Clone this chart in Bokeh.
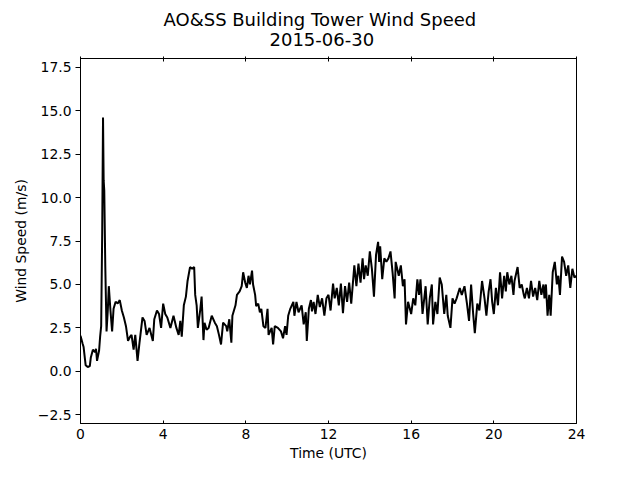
from bokeh.plotting import figure
from bokeh.models import Range1d, FixedTicker, LinearAxis, Title
from bokeh.embed import file_html
from bokeh.resources import INLINE

# --- data (hours UTC, wind speed m/s) ---
hours = [0.0, 0.1, 0.15, 0.25, 0.35, 0.45, 0.5, 0.6, 0.7, 0.75, 0.8, 0.9, 0.95, 1.0, 1.05, 1.09, 1.12, 1.15, 1.2,
         1.26, 1.32, 1.37, 1.45, 1.53, 1.6, 1.7, 1.8, 1.9, 2.0, 2.1, 2.2, 2.3, 2.4, 2.47, 2.57, 2.65, 2.76, 2.85,
         2.9, 3.0, 3.1, 3.2, 3.34, 3.5, 3.57, 3.7, 3.8, 3.9, 4.0, 4.1, 4.2, 4.35, 4.5, 4.64, 4.75, 4.83, 4.9,
         5.0, 5.1, 5.18, 5.3, 5.4, 5.5, 5.55, 5.62, 5.68, 5.8, 5.86, 5.95, 6.0, 6.1, 6.2, 6.35, 6.5, 6.6, 6.7,
         6.8, 6.9, 7.05, 7.1, 7.2, 7.3, 7.35, 7.5, 7.57, 7.7, 7.8, 7.87, 7.97, 8.05, 8.13, 8.2, 8.3, 8.35, 8.45,
         8.5, 8.6, 8.68, 8.75, 8.85, 8.95, 9.05, 9.1, 9.25, 9.32, 9.4, 9.55, 9.7, 9.8, 9.9, 9.97, 10.05, 10.15,
         10.3, 10.35, 10.45, 10.55, 10.7, 10.8, 10.9, 10.95, 11.05, 11.15, 11.2, 11.28, 11.37, 11.48, 11.58,
         11.69, 11.8, 11.9, 12.0, 12.1, 12.22, 12.3, 12.4, 12.5, 12.6, 12.7, 12.8, 12.9, 13.0, 13.1, 13.25,
         13.35, 13.45, 13.55, 13.65, 13.72, 13.8, 13.9, 14.0, 14.1, 14.2, 14.3, 14.4, 14.45, 14.5, 14.6, 14.7,
         14.8, 14.9, 15.0, 15.1, 15.2, 15.25, 15.4, 15.5, 15.6, 15.68, 15.75, 15.85, 16.0, 16.1, 16.2, 16.3,
         16.38, 16.45, 16.55, 16.7, 16.8, 16.9, 17.0, 17.06, 17.17, 17.27, 17.38, 17.48, 17.6, 17.7, 17.77,
         17.9, 18.0, 18.1, 18.2, 18.35, 18.45, 18.58, 18.7, 18.8, 18.9, 19.0, 19.08, 19.2, 19.3, 19.43, 19.55,
         19.64, 19.75, 19.84, 19.92, 20.0, 20.1, 20.2, 20.3, 20.4, 20.5, 20.58, 20.65, 20.75, 20.85, 20.95,
         21.0, 21.15, 21.25, 21.35, 21.45, 21.5, 21.6, 21.7, 21.8, 21.9, 22.0, 22.1, 22.2, 22.3, 22.4, 22.45,
         22.52, 22.6, 22.68, 22.75, 22.85, 22.95, 23.05, 23.12, 23.2, 23.3, 23.4, 23.5, 23.6, 23.7, 23.8,
         23.9, 24.0]
speed = [2.05, 1.6, 1.4, 0.35, 0.25, 0.3, 0.8, 1.25, 1.1, 1.3, 0.6, 1.2, 2.0, 2.6, 8.0, 14.6, 11.0, 10.4, 6.0,
         2.3, 3.5, 4.9, 3.5, 2.3, 3.6, 4.0, 3.9, 4.1, 3.5, 3.1, 2.6, 1.75, 2.0, 2.1, 1.25, 2.1, 0.6, 1.6,
         2.1, 3.1, 2.9, 2.1, 2.5, 1.75, 3.0, 3.5, 3.3, 2.5, 3.9, 3.3, 3.1, 2.5, 3.2, 2.5, 2.1, 2.9, 2.0,
         3.8, 4.3, 5.2, 6.0, 5.9, 6.0, 4.4, 3.8, 2.5, 3.6, 4.3, 1.8, 2.8, 2.4, 2.5, 3.2, 2.8, 2.6, 2.1,
         1.55, 2.8, 2.6, 2.3, 3.0, 1.65, 3.2, 3.8, 4.4, 4.6, 4.9, 5.7, 5.1, 4.8, 5.5, 5.0, 5.8, 5.0, 4.4,
         3.75, 3.9, 3.4, 3.6, 2.6, 2.5, 3.6, 2.1, 2.5, 1.55, 2.6, 2.5, 2.3, 1.9, 2.6, 2.1, 3.2, 3.6,
         4.0, 3.2, 4.0, 3.4, 3.8, 2.7, 3.4, 1.75, 3.6, 4.1, 3.45, 4.0, 3.3, 4.4, 3.7,
         4.2, 3.2, 4.2, 4.4, 3.5, 5.05, 4.2, 4.8, 3.8, 5.05, 3.35, 4.9, 4.0, 5.1, 3.9, 6.1,
         4.9, 6.2, 5.1, 6.5, 5.3, 6.1, 5.5, 6.9, 5.9, 4.3, 6.7, 7.45, 6.3, 7.2, 5.3, 6.5,
         6.3, 6.5, 6.9, 5.7, 4.2, 6.3, 5.5, 6.1, 4.9, 5.3, 2.7, 4.0, 3.3, 4.2, 3.8, 5.3,
         4.4, 5.3, 3.3, 4.9, 2.7, 4.2, 5.0, 2.7, 4.0, 3.3, 5.4, 5.0, 3.3, 4.4, 3.2,
         2.5, 4.2, 3.9, 4.2, 4.8, 4.4, 4.9, 3.9, 2.9, 5.0, 3.3, 2.2, 3.9, 3.5, 5.2, 4.2,
         3.2, 4.6, 5.3, 4.0, 3.3, 4.8, 3.8, 5.7, 4.2, 5.5, 4.6, 5.7, 5.0, 5.5, 4.4,
         5.2, 6.0, 4.8, 5.0, 4.4, 4.2, 4.8, 4.2, 5.2, 4.3, 4.8, 4.1, 5.2, 4.4, 5.0, 4.2,
         5.0, 3.2, 4.4, 3.2, 5.7, 6.3, 5.0, 5.5, 4.4, 6.6, 6.3, 5.5, 6.1, 4.8, 5.9,
         5.4, 5.5]

x_ticks = [0, 4, 8, 12, 16, 20, 24]
x_tick_labels = ["0", "4", "8", "12", "16", "20", "24"]
y_ticks = [-2.5, 0.0, 2.5, 5.0, 7.5, 10.0, 12.5, 15.0, 17.5]
y_tick_labels = ["\u22122.5", "0.0", "2.5", "5.0", "7.5", "10.0", "12.5", "15.0", "17.5"]

title_line1 = "AO&SS Building Tower Wind Speed"
title_line2 = "2015-06-30"

FONT = "DejaVu Sans"
TICK_SIZE = "13.9px"

p = figure(width=624, height=464, output_backend="svg", toolbar_location=None,
           x_range=Range1d(0, 24), y_range=Range1d(-3, 18),
           min_border_left=80, min_border_right=48, min_border_top=58, min_border_bottom=41,
           x_axis_label="Time (UTC)", y_axis_label="Wind Speed (m/s)")

p.line(hours, speed, line_color="black", line_width=2)

p.grid.visible = False
p.outline_line_color = "black"
p.outline_line_width = 1
p.background_fill_color = "white"
p.border_fill_color = "white"

xa = p.xaxis[0]
xa.ticker = FixedTicker(ticks=x_ticks)
xa.major_label_overrides = {t: l for t, l in zip(x_ticks, x_tick_labels)}
xa.minor_tick_line_color = None
xa.major_tick_in = 3
xa.major_tick_out = 0
xa.major_label_standoff = 5
xa.axis_label_standoff = 3

ya = p.yaxis[0]
ya.ticker = FixedTicker(ticks=y_ticks)
ya.major_label_overrides = {t: l for t, l in zip(y_ticks, y_tick_labels)}
ya.minor_tick_line_color = None
ya.major_tick_in = 0
ya.major_tick_out = 5
ya.major_label_standoff = 4
ya.axis_label_standoff = 6

for ax in (xa, ya):
    ax.axis_line_color = "black"
    ax.major_tick_line_color = "black"
    ax.major_label_text_font = FONT
    ax.major_label_text_font_size = TICK_SIZE
    ax.major_label_text_color = "black"
    ax.axis_label_text_font = FONT
    ax.axis_label_text_font_size = TICK_SIZE
    ax.axis_label_text_font_style = "normal"
    ax.axis_label_text_color = "black"

top = LinearAxis(ticker=FixedTicker(ticks=x_ticks))
top.major_tick_in = 3
top.major_tick_out = 2
top.minor_tick_line_color = None
top.major_label_text_color = None
top.major_label_text_font_size = "1px"
top.major_label_standoff = 0
top.axis_line_color = "black"
top.major_tick_line_color = "black"
p.add_layout(top, "above")

for txt, so, off in ((title_line2, 22, 189), (title_line1, -20, 83)):
    t = Title(text=txt, align="left", text_font=FONT, text_font_size="18px",
              text_font_style="normal", text_color="black", offset=off, standoff=so)
    p.add_layout(t, "above")

open("out.html", "w").write(file_html(p, INLINE))
